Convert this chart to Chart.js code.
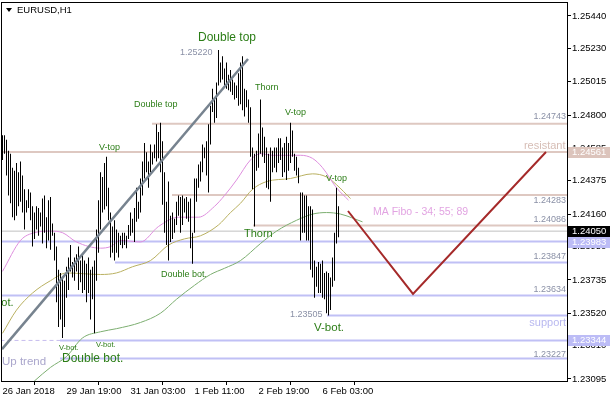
<!DOCTYPE html>
<html lang="en">
<head>
<meta charset="utf-8" />
<title>EURUSD,H1</title>
<script src="https://cdn.jsdelivr.net/npm/chart.js"></script>
<style>
  html, body { margin: 0; padding: 0; background: #fff; }
</style>
</head>
<body>
<canvas id="eurusdChart" width="610" height="400"></canvas>
<script>
// H1 bars, index 0 = first visible bar on 26 Jan 2018
const highs = [
  1.2467,1.2467,1.2464,1.2457,1.2455,1.2446,1.2444,1.2449,1.2443,1.2450,
  1.2441,1.2432,1.2425,1.2432,1.2430,1.2421,1.2417,1.2421,1.2420,1.2417,
  1.2426,1.2428,1.2414,1.2425,1.2427,1.2410,1.2404,1.2395,1.2380,1.2378,
  1.2375,1.2373,1.2382,1.2388,1.2396,1.2385,1.2388,1.2390,1.2395,1.2386,
  1.2390,1.2386,1.2384,1.2388,1.2380,1.2382,1.2386,1.2406,1.2425,1.2443,
  1.2440,1.2449,1.2453,1.2433,1.2417,1.2408,1.2412,1.2406,1.2404,1.2402,
  1.2404,1.2404,1.2402,1.2409,1.2417,1.2413,1.2420,1.2433,1.2424,1.2439,
  1.2450,1.2462,1.2456,1.2450,1.2461,1.2456,1.2461,1.2474,1.2469,1.2475,
  1.2463,1.2443,1.2424,1.2437,1.2415,1.2417,1.2413,1.2424,1.2428,1.2427,
  1.2428,1.2426,1.2427,1.2424,1.2426,1.2404,1.2439,1.2439,1.2448,1.2450,
  1.2461,1.2459,1.2463,1.2474,1.2486,1.2497,1.2491,1.2501,1.2522,1.2514,
  1.2518,1.2510,1.2514,1.2506,1.2509,1.2503,1.2501,1.2499,1.2507,1.2514,
  1.2518,1.2497,1.2496,1.2490,1.2485,1.2459,1.2455,1.2457,1.2468,1.2490,
  1.2472,1.2466,1.2459,1.2455,1.2459,1.2457,1.2459,1.2459,1.2465,1.2465,
  1.2459,1.2462,1.2466,1.2462,1.2475,1.2470,1.2455,1.2453,1.2446,1.2430,
  1.2430,1.2428,1.2428,1.2421,1.2421,1.2419,1.2386,1.2382,1.2385,1.2384,
  1.2386,1.2378,1.2379,1.2378,1.2375,1.2388,1.2404,1.2433,1.2421
];
const lows = [
  1.2451,1.2455,1.2441,1.2428,1.2423,1.2414,1.2412,1.2415,1.2421,1.2424,
  1.2417,1.2406,1.2417,1.2420,1.2412,1.2395,1.2400,1.2406,1.2402,1.2408,
  1.2397,1.2404,1.2394,1.2399,1.2393,1.2402,1.2386,1.2359,1.2343,1.2348,
  1.2336,1.2343,1.2362,1.2367,1.2379,1.2375,1.2373,1.2379,1.2367,1.2372,
  1.2365,1.2367,1.2359,1.2365,1.2348,1.2361,1.2339,1.2373,1.2391,1.2406,
  1.2417,1.2419,1.2421,1.2412,1.2388,1.2391,1.2386,1.2391,1.2388,1.2396,
  1.2394,1.2396,1.2394,1.2400,1.2402,1.2404,1.2398,1.2411,1.2413,1.2417,
  1.2428,1.2439,1.2443,1.2433,1.2443,1.2448,1.2452,1.2450,1.2452,1.2443,
  1.2422,1.2404,1.2396,1.2386,1.2398,1.2400,1.2404,1.2409,1.2415,1.2404,
  1.2409,1.2417,1.2413,1.2411,1.2394,1.2384,1.2404,1.2424,1.2433,1.2437,
  1.2443,1.2452,1.2441,1.2430,1.2461,1.2482,1.2475,1.2478,1.2499,1.2501,
  1.2503,1.2499,1.2497,1.2496,1.2495,1.2493,1.2490,1.2491,1.2486,1.2487,
  1.2483,1.2479,1.2485,1.2475,1.2453,1.2432,1.2408,1.2444,1.2446,1.2455,
  1.2453,1.2449,1.2433,1.2432,1.2424,1.2443,1.2446,1.2443,1.2449,1.2451,
  1.2440,1.2443,1.2438,1.2444,1.2449,1.2453,1.2444,1.2441,1.2436,1.2399,
  1.2404,1.2404,1.2399,1.2399,1.2380,1.2375,1.2362,1.2369,1.2365,1.2365,
  1.2362,1.2361,1.2352,1.23505,1.2354,1.2369,1.2373,1.2397,1.2401
];

const xTickIdx = [0, 32, 64, 96, 128, 160];
const xTickLabels = ['26 Jan 2018', '29 Jan 19:00', '31 Jan 03:00', '1 Feb 11:00', '2 Feb 19:00', '6 Feb 03:00'];
const yTicks = [1.23095, 1.23310, 1.23520, 1.23735, 1.23950, 1.24160, 1.24375, 1.24585, 1.24800, 1.25015, 1.25230, 1.25440];

const ma34X = [0, 9, 16, 24, 30, 37, 49, 54, 59, 69, 78, 88, 98, 106, 111, 117, 124, 129, 135, 149, 155, 160, 167, 173];
const ma34 = [1.2379, 1.2399, 1.2404, 1.2405, 1.2404, 1.2398, 1.2394, 1.2395, 1.2399, 1.2398, 1.2408, 1.2414, 1.2414, 1.2421, 1.2428, 1.2438, 1.2451, 1.2455, 1.2454, 1.2454, 1.2452, 1.2446, 1.2433, 1.2425];
const ma55X = [0, 7, 15, 24, 32, 49, 57, 65, 74, 83, 91, 99, 108, 114, 119, 125, 132, 144, 155, 162, 167, 174];
const ma55 = [1.2339, 1.2354, 1.2365, 1.2373, 1.2378, 1.2377, 1.2378, 1.2382, 1.2386, 1.2396, 1.2400, 1.2402, 1.2409, 1.2417, 1.2423, 1.2432, 1.2437, 1.2439, 1.2442, 1.2440, 1.2435, 1.2426];
const ma89X = [8, 24, 32, 40, 49, 57, 69, 79, 87, 96, 104, 111, 119, 129, 137, 147, 155, 162, 169, 180];
const ma89 = [1.2299, 1.2317, 1.2324, 1.2336, 1.2340, 1.2342, 1.2346, 1.2352, 1.2361, 1.2370, 1.2377, 1.2381, 1.2386, 1.2397, 1.2405, 1.2412, 1.2416, 1.2417, 1.2416, 1.2411];

// horizontal levels and the bar where each one starts
const resistLevels = [1.24743, 1.24561, 1.24283, 1.24086];
const resistFrom = [74.75, -1, 84.75, 125.25];
const supportLevels = [1.23983, 1.23847, 1.23634, 1.23505, 1.23344, 1.23227];
const supportFrom = [-1, 56.25, -1, 162.25, 28.75, 28.75];
const lastPrice = 1.24050;
const tagPrices = [1.24561, 1.24050, 1.23983, 1.23344];

// up trend line and projected path
const trendX = [-0.25, 122.75];
const trendY = [1.23288, 1.25162];
const projX = [172.75, 205.25, 271.75];
const projY = [1.2418, 1.23644, 1.24561];

const X_MIN = -0.75, X_MAX = 282.25;
const FONT = '"Liberation Sans", Arial, sans-serif';
const GREEN = '#2b7d16';
const GREY = '#8a90a6';
const ROSE = '#dec8c1';
const BLUE = '#c0c0f5';
const VIOLET = '#e2a4e2';

// [text, bar index, price, size, color, align]
const notes = [
  ['Double top', 97.75, 1.25298, 12, GREEN],
  ['1.25220', 88.75, 1.25201, 9, GREY],
  ['Double top', 65.75, 1.24865, 9, GREEN],
  ['Thorn', 126.25, 1.24975, 9, GREEN],
  ['V-top', 141.25, 1.24813, 9, GREEN],
  ['V-top', 48.25, 1.24587, 9, GREEN],
  ['V-top', 161.75, 1.24387, 9, GREEN],
  ['MA Fibo - 34; 55; 89', 185.25, 1.24173, 10.5, VIOLET],
  ['Thorn', 120.75, 1.24031, 11, GREEN],
  ['Double bot.', 79.25, 1.23773, 9, GREEN],
  ['Double bot.', 5.5, 1.23586, 11, GREEN, 'right'],
  ['1.23505', 143.75, 1.23511, 9, GREY],
  ['V-bot.', 155.75, 1.23424, 11.5, GREEN],
  ['V-bot.', 28.25, 1.23295, 7.5, GREEN],
  ['V-bot.', 46.75, 1.23314, 7.5, GREEN],
  ['Up trend', -0.25, 1.23208, 11.5, '#aaa6cc'],
  ['Double bot.', 29.75, 1.23224, 12, GREEN],
  ['resistant', 281.5, 1.24597, 11, '#d6bdb5', 'right'],
  ['support', 281.75, 1.23456, 11, '#b8b8f0', 'right'],
  ['1.24743', 281.75, 1.24790, 9, GREY, 'right'],
  ['1.24283', 281.75, 1.24245, 9, GREY, 'right'],
  ['1.24086', 281.75, 1.24122, 9, GREY, 'right'],
  ['1.23847', 281.75, 1.23883, 9, GREY, 'right'],
  ['1.23634', 281.75, 1.23676, 9, GREY, 'right'],
  ['1.23227', 281.75, 1.23256, 9, GREY, 'right']
];

function zip(xs, ys) {
  return xs.map((x, i) => ({x: x, y: ys[i]}));
}

function levelLine(p, from, color, w) {
  return {
    type: 'line',
    data: [{x: from, y: p}, {x: X_MAX, y: p}],
    borderColor: color,
    borderWidth: w,
    pointRadius: 0,
    order: 3
  };
}

const datasets = [];
resistLevels.forEach((p, k) => datasets.push(levelLine(p, resistFrom[k], ROSE, 2)));
supportLevels.forEach((p, k) => datasets.push(levelLine(p, supportFrom[k], BLUE, 2)));
datasets.push(levelLine(lastPrice, -1, '#c0c0c0', 1));
// dashed stub left of the 1.23344 line
datasets.push({
  type: 'line',
  data: [{x: -1, y: supportLevels[4]}, {x: supportFrom[4], y: supportLevels[4]}],
  borderColor: '#c6bcee', borderWidth: 1, borderDash: [4, 3], pointRadius: 0, order: 3
});

[[ma34X, ma34, '#de8ede'], [ma55X, ma55, '#b9b060'], [ma89X, ma89, '#7cae70']].forEach(m => {
  datasets.push({
    type: 'line', data: zip(m[0], m[1]), borderColor: m[2], borderWidth: 1,
    pointRadius: 0, cubicInterpolationMode: 'monotone', order: 2
  });
});

datasets.push({
  type: 'bar',
  data: highs.map((h, i) => ({x: i, y: [lows[i], h]})),
  backgroundColor: '#000',
  barThickness: 1,
  inflateAmount: 0,
  grouped: false,
  order: 1
});

datasets.push({
  type: 'line', data: zip(trendX, trendY), borderColor: '#77838f', borderWidth: 2.5, pointRadius: 0, order: 0
});
datasets.push({
  type: 'line', data: zip(projX, projY), borderColor: '#a52a2a', borderWidth: 2, pointRadius: 0, order: 0
});

const overlay = {
  id: 'overlay',
  afterDatasetsDraw(chart) {
    const {ctx, chartArea: a, scales: {x, y}} = chart;
    ctx.save();
    ctx.beginPath();
    ctx.rect(a.left, a.top, a.right - a.left, a.bottom - a.top);
    ctx.clip();
    ctx.textBaseline = 'middle';
    notes.forEach(n => {
      ctx.font = n[3] + 'px ' + FONT;
      ctx.fillStyle = n[4];
      ctx.textAlign = n[5] || 'left';
      ctx.fillText(n[0], x.getPixelForValue(n[1]), y.getPixelForValue(n[2]));
    });
    // symbol caption
    ctx.fillStyle = '#000';
    ctx.beginPath();
    ctx.moveTo(6, 8); ctx.lineTo(12, 8); ctx.lineTo(9, 12); ctx.closePath();
    ctx.fill();
    ctx.font = '9.5px ' + FONT;
    ctx.textAlign = 'left';
    ctx.fillText('EURUSD,H1', 17, 10);
    ctx.restore();
  },
  afterDraw(chart) {
    const {ctx, chartArea: a, scales: {y}} = chart;
    ctx.save();
    ctx.strokeStyle = '#000';
    ctx.lineWidth = 1;
    ctx.strokeRect(a.left + 0.5, a.top + 0.5, a.right - a.left, a.bottom - a.top);
    const bg = ['#dcc4bc', '#000', '#bcbcf6', '#bcbcf6'];
    ctx.font = '9.5px ' + FONT;
    ctx.textBaseline = 'middle';
    ctx.textAlign = 'left';
    tagPrices.forEach((p, k) => {
      const py = Math.round(y.getPixelForValue(p));
      ctx.fillStyle = bg[k];
      ctx.fillRect(a.right + 1, py - 5, 43, 11);
      ctx.fillStyle = '#fff';
      ctx.fillText(p.toFixed(5), a.right + 5, py + 0.5);
    });
    ctx.restore();
  }
};

new Chart(document.getElementById('eurusdChart'), {
  type: 'line',
  data: {datasets: datasets},
  plugins: [overlay],
  options: {
    responsive: false,
    animation: false,
    devicePixelRatio: 1,
    layout: {padding: {left: 1, top: 2, right: 0, bottom: 0}},
    plugins: {legend: {display: false}, tooltip: {enabled: false}},
    scales: {
      x: {
        type: 'linear', min: X_MIN, max: X_MAX, offset: false,
        afterBuildTicks: s => { s.ticks = xTickIdx.map(v => ({value: v})); },
        afterFit: s => { s.height = 19; s.paddingLeft = 0; s.paddingRight = 0; },
        ticks: {
          autoSkip: false, maxRotation: 0, align: 'start', padding: 1, color: '#000',
          font: {family: FONT, size: 9.5},
          callback: (v, i) => xTickLabels[i]
        },
        grid: {drawOnChartArea: false, tickLength: 4, color: '#000'},
        border: {display: false}
      },
      y: {
        type: 'linear', position: 'right', min: 1.23082, max: 1.25530,
        afterBuildTicks: s => { s.ticks = yTicks.map(v => ({value: v})); },
        afterFit: s => { s.width = 43; s.paddingTop = 0; s.paddingBottom = 0; },
        ticks: {
          padding: 1, color: '#000', font: {family: FONT, size: 9.5},
          callback: v => v.toFixed(5)
        },
        grid: {drawOnChartArea: false, tickLength: 4, color: '#000'},
        border: {display: false}
      }
    }
  }
});
</script>
</body>
</html>
